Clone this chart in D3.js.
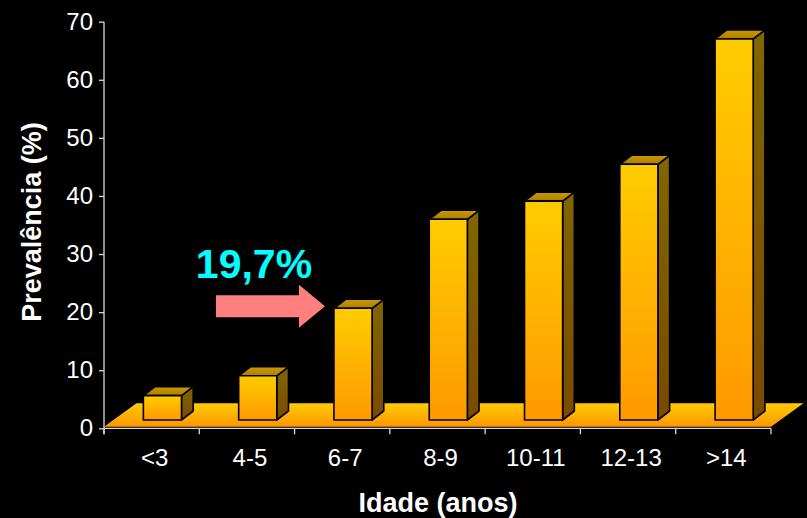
<!DOCTYPE html>
<html>
<head>
<meta charset="utf-8">
<script src="https://cdn.jsdelivr.net/npm/d3@7"></script>
<style>
  html, body { margin: 0; padding: 0; background: #000; }
  svg { display: block; }
  text { font-family: Arial, "Liberation Sans", sans-serif; }
</style>
</head>
<body>
<svg id="chart" width="807" height="518"></svg>
<script>
// Prevalência por faixa etária
const categories = ["<3", "4-5", "6-7", "8-9", "10-11", "12-13", ">14"];
const prevalence = [4.3, 7.8, 19.7, 35.4, 38.6, 45.1, 67.2];
const yTicks = [0, 10, 20, 30, 40, 50, 60, 70];
const highlightIndex = 2;
const highlightLabel = "19,7%";

const svg = d3.select("#chart");
const W = 807, H = 518;
svg.append("rect").attr("width", W).attr("height", H).attr("fill", "#000");

// front plane geometry
const x0 = 104, x1 = 771, yBase = 428.3, yTop = 21.7;
const x = d3.scaleBand().domain(categories).range([x0, x1]).padding(0);
const y = d3.scaleLinear().domain([0, 70]).range([yBase, yTop]);

// oblique depth direction (per pixel of vertical rise)
const kx = 1.3;
const floorDepth = 25;     // vertical extent of floor
const barFront = 8.3;      // depth of bar front face
const barDepth = 9;        // bar thickness in depth
const barBase = yBase - barFront;
// value scale on the bar plane
const yBar = d3.scaleLinear().domain([0, 70]).range([barBase, barBase - 70 * 5.67]);

const defs = svg.append("defs");
function vGrad(id, c0, c1) {
  const g = defs.append("linearGradient").attr("id", id)
    .attr("x1", 0).attr("y1", 0).attr("x2", 0).attr("y2", 1);
  g.append("stop").attr("offset", "0%").attr("stop-color", c0);
  g.append("stop").attr("offset", "100%").attr("stop-color", c1);
}
vGrad("gFront", "#FFCC00", "#FF9900");
vGrad("gSide", "#806600", "#7A4A00");
vGrad("gTop", "#C89A00", "#B07E00");
vGrad("gFloor", "#FFCC00", "#FF9500");

// floor
const fdx = floorDepth * kx;
svg.append("path")
  .attr("d", `M${x0},${yBase - 1.5} L${x0 + fdx},${yBase - floorDepth} L${x1 + fdx},${yBase - floorDepth} L${x1},${yBase - 1.5} Z`)
  .attr("fill", "url(#gFloor)");

// bars
const bw = x.bandwidth() * 0.4;
const shiftX = barFront * kx;
const ddx = barDepth * kx, ddy = barDepth;
const bars = svg.append("g").selectAll("g").data(categories).join("g")
  .attr("stroke", "#000").attr("stroke-width", 1.6).attr("stroke-linejoin", "round");

bars.each(function (c, i) {
  const g = d3.select(this);
  const L = x(c) + x.bandwidth() / 2 - bw / 2 + shiftX;
  const R = L + bw;
  const T = yBar(prevalence[i]);
  const B = barBase;
  // side face
  g.append("path")
    .attr("d", `M${R},${T} L${R + ddx},${T - ddy} L${R + ddx},${B - ddy} L${R},${B} Z`)
    .attr("fill", "url(#gSide)");
  // top face
  g.append("path")
    .attr("d", `M${L},${T} L${L + ddx},${T - ddy} L${R + ddx},${T - ddy} L${R},${T} Z`)
    .attr("fill", "url(#gTop)");
  // front face
  g.append("rect")
    .attr("x", L).attr("y", T).attr("width", bw).attr("height", B - T)
    .attr("fill", "url(#gFront)");
});

// y axis
const axisColor = "#D8D8D8";
const yAxis = svg.append("g").attr("transform", `translate(${x0},0)`)
  .call(d3.axisLeft(y).tickValues(yTicks).tickSize(5).tickPadding(6).tickFormat(d3.format("d")));
yAxis.selectAll("path, line").attr("stroke", axisColor).attr("stroke-width", 1.3);
yAxis.select(".domain").attr("d", `M0,${yTop}V${yBase + 6}`);
yAxis.selectAll("text").attr("fill", "#fff").attr("font-size", 24)
  .attr("font-family", "Arial, 'Liberation Sans', sans-serif");

// x axis (ticks between categories)
const xAxis = svg.append("g").attr("transform", `translate(0,${yBase})`);
xAxis.append("line").attr("x1", x0).attr("x2", x1).attr("y1", 0).attr("y2", 0)
  .attr("stroke", axisColor).attr("stroke-width", 1.3);
const boundaries = categories.map(c => x(c)).concat([x1]);
xAxis.selectAll("line.tick").data(boundaries).join("line").attr("class", "tick")
  .attr("x1", d => d).attr("x2", d => d).attr("y1", 0).attr("y2", 6)
  .attr("stroke", axisColor).attr("stroke-width", 1.3);
xAxis.selectAll("text").data(categories).join("text")
  .attr("x", d => x(d) + x.bandwidth() / 2 + 3)
  .attr("y", 38)
  .attr("text-anchor", "middle")
  .attr("fill", "#fff").attr("font-size", 24)
  .text(d => d);

// axis titles
svg.append("text")
  .attr("x", 438).attr("y", 512)
  .attr("text-anchor", "middle").attr("fill", "#fff")
  .attr("font-size", 27).attr("font-weight", "bold")
  .text("Idade (anos)");
svg.append("text")
  .attr("transform", `translate(41,222) rotate(-90)`)
  .attr("text-anchor", "middle").attr("fill", "#fff")
  .attr("font-size", 27).attr("font-weight", "bold")
  .text("Prevalência (%)");

// highlight annotation
const hx = x(categories[highlightIndex]) + x.bandwidth() / 2 - bw / 2 + shiftX;
const hy = yBar(prevalence[highlightIndex]);
const tipX = hx - 9, tipY = hy - 2;
const arrow = [
  [tipX, tipY],
  [tipX - 26, tipY - 21.5],
  [tipX - 26, tipY - 11],
  [tipX - 109, tipY - 11],
  [tipX - 109, tipY + 11],
  [tipX - 26, tipY + 11],
  [tipX - 26, tipY + 21.5]
];
svg.append("path").attr("d", d3.line()(arrow) + "Z").attr("fill", "#FF7F7F");
svg.append("text")
  .attr("x", 254).attr("y", 278)
  .attr("text-anchor", "middle").attr("fill", "#00FFFF")
  .attr("font-size", 41).attr("font-weight", "bold")
  .text(highlightLabel);
</script>
</body>
</html>
